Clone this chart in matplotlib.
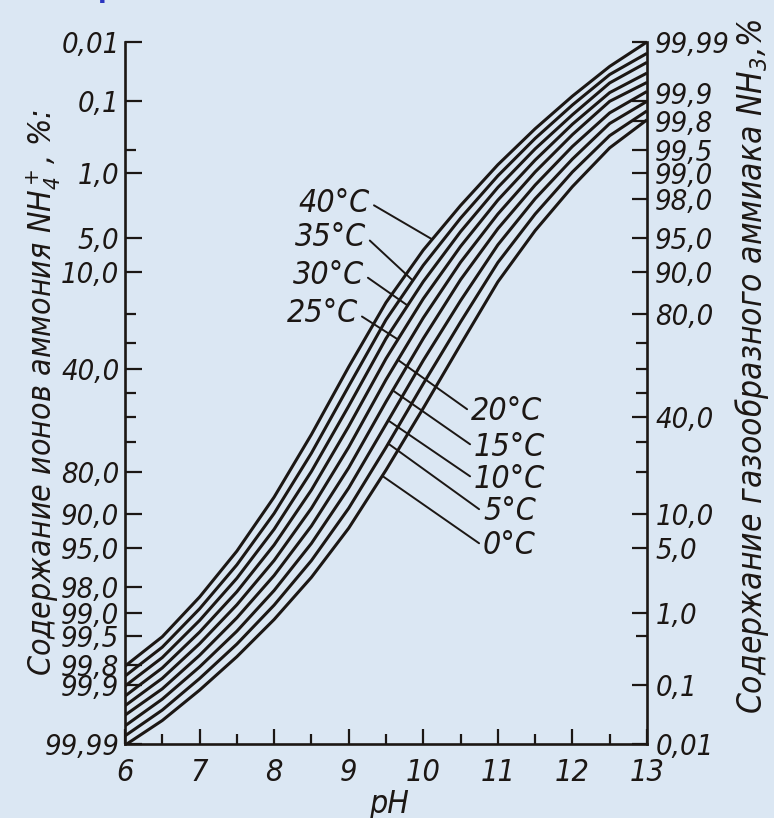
import numpy as np
import matplotlib
matplotlib.use("Agg")
import matplotlib.pyplot as plt
import matplotlib.transforms as mtransforms
from statistics import NormalDist

# Доля газообразного аммиака NH3 (%) при разных pH и температурах
ph = [6.0, 6.5, 7.0, 7.5, 8.0, 8.5, 9.0, 9.5, 10.0, 10.5, 11.0, 11.5, 12.0, 12.5, 13.0]
temps = [0, 5, 10, 15, 20, 25, 30, 35, 40]
nh3_0 = [0.0095, 0.026, 0.082, 0.26, 0.82, 2.54, 7.6, 20.7, 43.6, 69.6, 88.05, 95.73, 98.56, 99.53, 99.81]
nh3_5 = [0.014, 0.039, 0.124, 0.39, 1.23, 3.79, 11.1, 28.2, 53.9, 77.4, 91.65, 97.10, 99.04, 99.68, 99.86]
nh3_10 = [0.021, 0.059, 0.185, 0.58, 1.82, 5.55, 15.7, 37.0, 63.5, 83.6, 94.17, 98.02, 99.34, 99.785, 99.90]
nh3_15 = [0.032, 0.086, 0.272, 0.86, 2.66, 7.94, 21.4, 46.3, 71.8, 88.5, 95.91, 98.62, 99.55, 99.85, 99.93]
nh3_20 = [0.046, 0.125, 0.394, 1.24, 3.80, 11.1, 28.3, 55.6, 78.7, 91.7, 97.1, 99.04, 99.69, 99.90, 99.95]
nh3_25 = [0.066, 0.179, 0.564, 1.76, 5.37, 15.2, 36.2, 64.2, 84.1, 93.98, 97.95, 99.32, 99.78, 99.927, 99.965]
nh3_30 = [0.095, 0.253, 0.797, 2.48, 7.44, 20.3, 44.5, 71.8, 88.1, 95.63, 98.53, 99.515, 99.84, 99.949, 99.977]
nh3_35 = [0.135, 0.354, 1.11, 3.43, 10.1, 26.2, 52.9, 78.1, 91.2, 96.8, 98.93, 99.65, 99.886, 99.963, 99.984]
nh3_40 = [0.19, 0.49, 1.53, 4.69, 13.5, 33.0, 60.9, 83.1, 93.5, 97.65, 99.22, 99.744, 99.917, 99.973, 99.99]
curves = [nh3_0, nh3_5, nh3_10, nh3_15, nh3_20, nh3_25, nh3_30, nh3_35, nh3_40]

# шкала слева: ионы аммония NH4+ (%), справа: NH3 (%)
left_vals = [0.01, 0.1, 1.0, 5.0, 10.0, 40.0, 80.0, 90.0, 95.0, 98.0, 99.0, 99.5, 99.8, 99.9, 99.99]
left_labels = ['0,01', '0,1', '1,0', '5,0', '10,0', '40,0', '80,0', '90,0', '95,0',
               '98,0', '99,0', '99,5', '99,8', '99,9', '99,99']
left_minor = [0.5, 20.0, 30.0, 50.0, 60.0, 70.0]
right_vals = [99.99, 99.9, 99.8, 99.5, 99.0, 98.0, 95.0, 90.0, 80.0, 40.0, 10.0, 5.0, 1.0, 0.1, 0.01]
right_labels = ['99,99', '99,9', '99,8', '99,5', '99,0', '98,0', '95,0', '90,0', '80,0',
                '40,0', '10,0', '5,0', '1,0', '0,1', '0,01']
right_minor = [70.0, 60.0, 50.0, 30.0, 20.0, 0.5]
x_major = [6, 7, 8, 9, 10, 11, 12, 13]
x_minor = [6.5, 7.5, 8.5, 9.5, 10.5, 11.5, 12.5]

# подписи температур: (температура, pH точки на кривой)
left_notes = [(40, 10.12), (35, 9.86), (30, 9.79), (25, 9.66)]
right_notes = [(20, 9.66), (15, 9.59), (10, 9.53), (5, 9.53), (0, 9.45)]

_nd = NormalDist()
_ppf = np.vectorize(_nd.inv_cdf, otypes=[float])
_cdf = np.vectorize(_nd.cdf, otypes=[float])


def forward(p):
    q = np.clip(np.asarray(p, dtype=float) / 100.0, 1e-9, 1 - 1e-9)
    return _ppf(q)


def inverse(z):
    return _cdf(np.asarray(z, dtype=float)) * 100.0


def on_curve(t, x):
    vals = curves[temps.index(t)]
    z = np.interp(x, ph, forward(vals))
    return float(inverse(z))


ink = '#1c1714'
bg = '#dbe7f3'
plt.rcParams['font.family'] = ['DejaVu Sans']
plt.rcParams['font.stretch'] = 'condensed'
plt.rcParams['font.style'] = 'italic'
plt.rcParams['mathtext.fontset'] = 'dejavusans'
plt.rcParams['mathtext.default'] = 'it'
plt.rcParams['text.color'] = ink

fig = plt.figure(figsize=(7.74, 8.18), dpi=100, facecolor=bg)
ax = fig.add_axes([0.1615, 0.0905, 0.6744, 0.8582])
ax.set_facecolor('none')

for vals in curves:
    ax.plot(ph, vals, color=ink, lw=2.2, solid_capstyle='butt', solid_joinstyle='round')

ax.set_xlim(6, 13)
ax.set_yscale('function', functions=(forward, inverse))
ax.set_ylim(0.01, 99.99)

ax2 = ax.twinx()
ax2.set_yscale('function', functions=(forward, inverse))
ax2.set_ylim(0.01, 99.99)

for a in (ax, ax2):
    a.spines['top'].set_visible(False)
    for s in a.spines.values():
        s.set_color(ink)
        s.set_linewidth(1.9)
ax.spines['right'].set_visible(False)
ax2.spines['left'].set_visible(False)
ax2.spines['bottom'].set_visible(False)

ax.set_yticks([100 - v for v in left_vals])
ax.set_yticklabels(left_labels)
ax.set_yticks([100 - v for v in left_minor], minor=True)
ax2.set_yticks(right_vals)
ax2.set_yticklabels(right_labels)
ax2.set_yticks(right_minor, minor=True)
ax.set_xticks(x_major)
ax.set_xticklabels([str(v) for v in x_major])
ax.set_xticks(x_minor, minor=True)

ax.tick_params(axis='y', which='major', direction='in', length=12, width=1.6,
               color=ink, labelsize=21, pad=4, labelcolor=ink)
ax.tick_params(axis='y', which='minor', direction='in', length=8, width=1.6, color=ink)
ax2.tick_params(axis='y', which='major', direction='in', length=11, width=1.6,
                color=ink, labelsize=21, pad=6, labelcolor=ink)
ax2.tick_params(axis='y', which='minor', direction='in', length=8, width=1.6, color=ink)
ax.tick_params(axis='x', which='major', direction='in', length=11, width=1.6,
               color=ink, labelsize=22, pad=10, labelcolor=ink)
ax.tick_params(axis='x', which='minor', direction='in', length=7, width=1.6, color=ink)

# подпись 99,9 справа чуть выше своей риски, как на оригинале
lbl = ax2.get_yticklabels()[1]
lbl.set_transform(lbl.get_transform() +
                  mtransforms.ScaledTranslation(0, 6 / 72, fig.dpi_scale_trans))

# подписи кривых
lp = dict(arrowstyle='-', color=ink, lw=1.4, shrinkA=1, shrinkB=0)
left_text = [(370, 615), (366, 581), (364, 543), (358, 504)]
for (t, x), (tx, ty) in zip(left_notes, left_text):
    ax.annotate(f'{t}°C', xy=(x, on_curve(t, x)), xytext=(tx, ty),
                textcoords='figure pixels', ha='right', va='center', fontsize=23,
                arrowprops=dict(lp, relpos=(1.0, 0.5)))
right_text = [(471, 406), (474, 371), (474, 339), (483, 306), (483, 272)]
for (t, x), (tx, ty) in zip(right_notes, right_text):
    ax.annotate(f'{t}°C', xy=(x, on_curve(t, x)), xytext=(tx, ty),
                textcoords='figure pixels', ha='left', va='center', fontsize=23,
                arrowprops=dict(lp, relpos=(0.0, 0.5)))

fig.text(389 / 774, 1 - 804 / 818, 'pH', ha='center', va='center', fontsize=23)
fig.text(43 / 774, 1 - 392 / 818, r'Содержание ионов аммония NH$_4^+$, %:',
         rotation=90, ha='center', va='center', fontsize=23)
fig.text(752 / 774, 1 - 366 / 818, r'Содержание газообразного аммиака NH$_3$,%',
         rotation=90, ha='center', va='center', fontsize=24)
fig.text(100 / 774, 1 - 3 / 818, '4', color='#2b35c0', fontsize=20,
         ha='center', va='baseline', style='normal', fontweight='bold')

fig.savefig('out.png', dpi=100, facecolor=bg)
